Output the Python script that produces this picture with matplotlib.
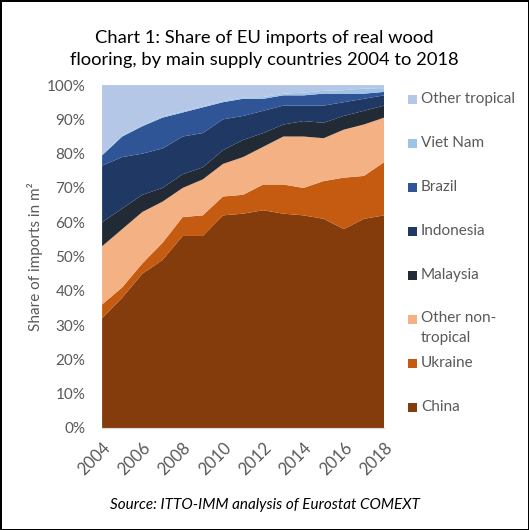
import numpy as np
import matplotlib.pyplot as plt
from matplotlib.patches import Rectangle

# Shares (%), 2004-2018
years = np.arange(2004, 2019)
china = [32, 38, 45, 49, 56, 56, 62, 62.5, 63.5, 62.5, 62, 61, 58, 61, 62]
ukraine = [4, 3, 3, 5, 5.5, 6, 5.5, 5.5, 7.5, 8.5, 8, 11, 15, 12.5, 15.5]
other_non_tropical = [17, 17, 15, 12, 8.5, 10.5, 9.5, 11, 11, 14, 15, 12.5, 14, 15, 13]
malaysia = [7, 6, 5, 4, 4, 3.5, 4, 5, 4, 3.5, 4.5, 4.5, 4, 4, 3.5]
indonesia = [16.5, 15, 12, 11.5, 11, 10, 9, 7, 6.5, 5.5, 4.5, 5, 4, 3.5, 3]
brazil = [3, 6, 8, 9, 7, 7.5, 5, 5, 3.5, 3, 3, 3.5, 2.5, 1.5, 1]
viet_nam = [0.3, 0.3, 0.3, 0.3, 0.3, 0.3, 0.3, 0.4, 0.5, 0.5, 0.8, 0.8, 1, 1.5, 0.8]
other_tropical = [100 - sum(v) for v in zip(china, ukraine, other_non_tropical,
                                             malaysia, indonesia, brazil, viet_nam)]

labels = ['China', 'Ukraine', 'Other non-\ntropical', 'Malaysia', 'Indonesia',
          'Brazil', 'Viet Nam', 'Other tropical']
colors = ['#843C0C', '#C55A11', '#F4B183', '#222A35', '#1F3864',
          '#2F5597', '#9DC3E6', '#B4C7E7']
series = [china, ukraine, other_non_tropical, malaysia, indonesia,
          brazil, viet_nam, other_tropical]

plt.rcParams['font.family'] = ['Lato', 'DejaVu Sans']
grey = '#595959'

fig = plt.figure(figsize=(5.29, 5.30), dpi=100)
fig.patch.set_edgecolor('black')
fig.patch.set_linewidth(2)
ax = fig.add_axes([0.193, 0.1925, 0.533, 0.647])

ax.stackplot(years, np.array(series) / 100.0, colors=colors, linewidth=0)

ax.set_xlim(2004, 2018)
ax.set_ylim(0, 1)
ax.set_yticks(np.arange(0, 1.01, 0.1))
ax.set_yticklabels(['%d%%' % v for v in range(0, 101, 10)])
ax.set_xticks(np.arange(2004, 2019, 2))
ax.set_xticklabels([str(y) for y in range(2004, 2019, 2)], rotation=45,
                   ha='right', rotation_mode='anchor')
ax.tick_params(axis='both', length=0, colors=grey, labelsize=11)
ax.tick_params(axis='x', pad=8, labelsize=12)
ax.tick_params(axis='y', pad=12)
for side in ['top', 'right', 'left']:
    ax.spines[side].set_visible(False)
ax.spines['bottom'].set_color('#D9D9D9')
ax.set_ylabel('Share of imports in m²', color=grey, fontsize=11, labelpad=3)

fig.text(0.5, 0.908, 'Chart 1: Share of EU imports of real wood\n'
         'flooring, by main supply countries 2004 to 2018',
         ha='center', va='center', fontsize=13.2, linespacing=1.5)
fig.text(0.5, 0.047, 'Source: ITTO-IMM analysis of Eurostat COMEXT',
         ha='center', va='center', fontsize=11, style='italic')

# legend drawn by hand, top entry first
for i, (lab, col) in enumerate(zip(labels[::-1], colors[::-1])):
    y = 1 - (99 + 44 * i) / 530.0
    fig.patches.append(Rectangle((408 / 529.0, y - 4.5 / 530.0), 9 / 529.0, 9 / 530.0,
                                 transform=fig.transFigure, facecolor=col,
                                 edgecolor='none'))
    if '\n' in lab:
        fig.text(421 / 529.0, y + 8 / 530.0, lab, ha='left', va='top',
                 fontsize=11, color=grey, linespacing=1.55)
    else:
        fig.text(421 / 529.0, y, lab, ha='left', va='center',
                 fontsize=11, color=grey)

plt.savefig('out.png', dpi=100)
